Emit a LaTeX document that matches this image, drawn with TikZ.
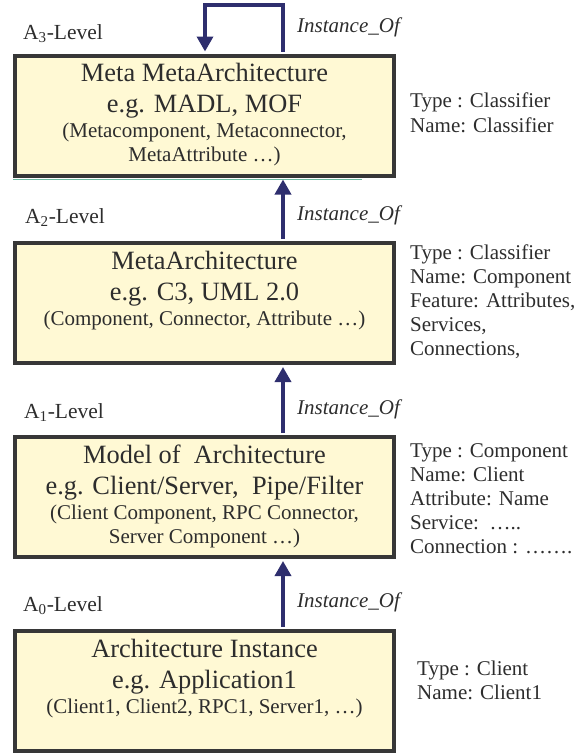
\documentclass[tikz,border=0pt]{standalone}
\usepackage{fontspec}
\setmainfont{Liberation Serif}
\usetikzlibrary{arrows.meta}

\definecolor{boxfill}{RGB}{255,249,212}
\definecolor{boxline}{RGB}{55,55,55}
\definecolor{arrowblue}{RGB}{46,46,110}
\definecolor{textgray}{RGB}{45,45,45}
\definecolor{seam}{RGB}{110,185,160}

\newcommand\bigsize{\fontsize{26.4}{31}\selectfont}
\newcommand\smallsize{\fontsize{21}{24}\selectfont}

\tikzset{
  levelbox/.style={draw=boxline, fill=boxfill, line width=4pt,
    minimum width=379pt, minimum height=120pt, inner sep=0pt},
  titleline/.style={anchor=base, inner sep=0pt, text=textgray, font=\bigsize},
  detailline/.style={anchor=base, inner sep=0pt, text=textgray, font=\smallsize},
  sideline/.style={anchor=base west, inner sep=0pt, text=textgray, font=\smallsize},
  levellabel/.style={anchor=base west, inner sep=0pt, text=textgray,
    font=\fontsize{21.5}{24}\selectfont},
  instlabel/.style={anchor=base west, inner sep=0pt, text=textgray,
    font=\fontsize{21}{24}\selectfont\itshape},
  instarrow/.style={draw=arrowblue, line width=3.5pt, line join=miter,
    -{Triangle[length=15pt, width=16pt]}}
}

\begin{document}
\begin{tikzpicture}[x=1pt, y=-1pt]
\useasboundingbox (0,0) rectangle (588,753);

% the four level boxes
\node[levelbox] (b1) at (204.5,115.5) {};
\node[levelbox] (b2) at (204.5,303) {};
\node[levelbox] (b3) at (204.5,497) {};
\node[levelbox] (b4) at (204.5,691) {};

% thin seam under the top box
\draw[seam, line width=0.7pt] ([yshift=-2.2pt]b1.south west) -- ([xshift=-34pt,yshift=-2.2pt]b1.south east);

% A3 box text
\node[titleline]  (b1l1) at ([yshift=-28pt]b1.north)  {Meta MetaArchitecture};
\node[titleline]  (b1l2) at ([yshift=-59pt]b1.north)  {e.g. MADL, MOF};
\node[detailline] (b1l3) at ([yshift=-84pt]b1.north)  {(Metacomponent, Metaconnector,};
\node[detailline] (b1l4) at ([yshift=-108pt]b1.north) {MetaAttribute …)};

% A2 box text
\node[titleline]  (b2l1) at ([yshift=-28pt]b2.north)  {MetaArchitecture};
\node[titleline]  (b2l2) at ([yshift=-59pt]b2.north)  {e.g. C3, UML 2.0};
\node[detailline] (b2l3) at ([yshift=-84pt]b2.north)  {(Component, Connector, Attribute …)};

% A1 box text
\node[titleline]  (b3l1) at ([yshift=-28pt]b3.north)  {Model of\ \ Architecture};
\node[titleline]  (b3l2) at ([yshift=-59pt]b3.north)  {e.g. Client/Server,\ \ Pipe/Filter};
\node[detailline] (b3l3) at ([yshift=-84pt]b3.north)  {(Client Component, RPC Connector,};
\node[detailline] (b3l4) at ([yshift=-108pt]b3.north) {Server Component …)};

% A0 box text
\node[titleline]  (b4l1) at ([yshift=-28pt]b4.north)  {Architecture Instance};
\node[titleline]  (b4l2) at ([yshift=-59pt]b4.north)  {e.g. Application1};
\node[detailline] (b4l3) at ([yshift=-84pt]b4.north)  {(Client1, Client2, RPC1, Server1, …)};

% level labels
\node[levellabel] (lv3) at (23,39)  {A\textsubscript{3}-Level};
\node[levellabel] (lv2) at (25,223) {A\textsubscript{2}-Level};
\node[levellabel] (lv1) at (24,418) {A\textsubscript{1}-Level};
\node[levellabel] (lv0) at (23,611) {A\textsubscript{0}-Level};

% instance-of labels
\node[instlabel] (io3) at (297,32)  {Instance\_Of};
\node[instlabel] (io2) at (297,220) {Instance\_Of};
\node[instlabel] (io1) at (297,414) {Instance\_Of};
\node[instlabel] (io0) at (297,607) {Instance\_Of};

% side descriptions
\node[sideline] (s1a) at (410,107) {Type : Classifier};
\node[sideline] (s1b) at (410,132) {Name: Classifier};

\node[sideline] (s2a) at (410,259) {Type : Classifier};
\node[sideline] (s2b) at (410,283) {Name: Component};
\node[sideline] (s2c) at (410,307) {Feature: Attributes,};
\node[sideline] (s2d) at (410,331) {Services,};
\node[sideline] (s2e) at (410,355) {Connections,};

\node[sideline] (s3a) at (410,457) {Type : Component};
\node[sideline] (s3b) at (410,481) {Name: Client};
\node[sideline] (s3c) at (410,505) {Attribute: Name};
\node[sideline] (s3d) at (410,529) {Service:\ \ …..};
\node[sideline] (s3e) at (410,553) {Connection : …….};

\node[sideline] (s4a) at (417,675) {Type : Client};
\node[sideline] (s4b) at (417,699) {Name: Client1};

% instance-of connectors
\draw[instarrow] ([xshift=78.5pt,yshift=2pt]b1.north) -- ++(0,-46.5)
  -| ([xshift=0.5pt,yshift=2pt]b1.north);
\draw[instarrow] ([xshift=78.5pt,yshift=2pt]b2.north) -- ([xshift=78.5pt,yshift=-2pt]b1.south);
\draw[instarrow] ([xshift=78.5pt,yshift=2pt]b3.north) -- ([xshift=78.5pt,yshift=-2pt]b2.south);
\draw[instarrow] ([xshift=78.5pt,yshift=2pt]b4.north) -- ([xshift=78.5pt,yshift=-2pt]b3.south);
\end{tikzpicture}
\end{document}
